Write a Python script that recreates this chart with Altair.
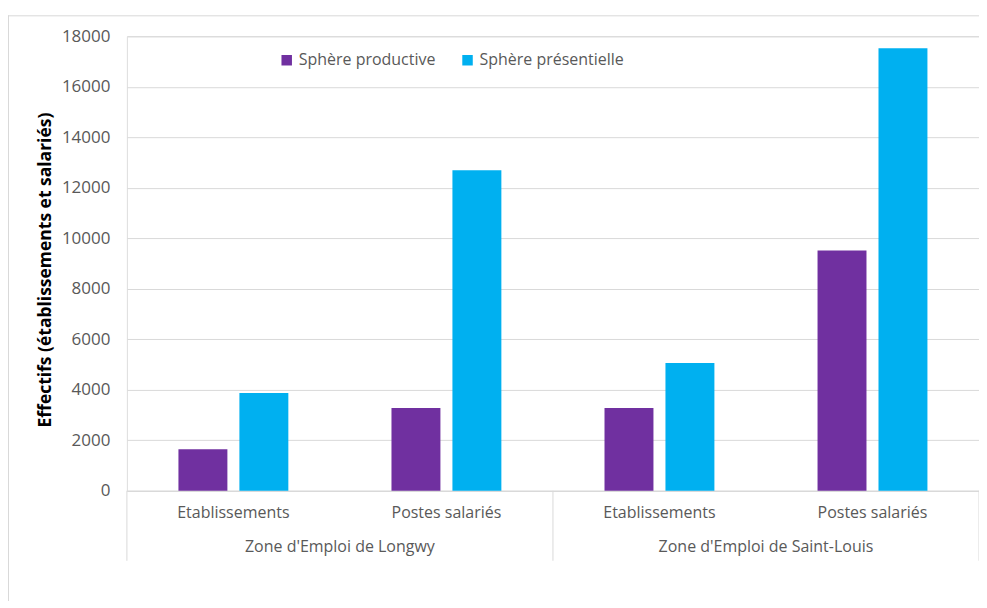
import altair as alt
import pandas as pd

# ---- data ----
zones = ["Zone d'Emploi de Longwy", "Zone d'Emploi de Saint-Louis"]
indicators = ["Etablissements", "Postes salariés"]
series = ["Sphère productive", "Sphère présentielle"]
productive = [1650, 3280, 3280, 9520]
presentielle = [3870, 12690, 5060, 17530]
y_ticks = [0, 2000, 4000, 6000, 8000, 10000, 12000, 14000, 16000, 18000]
y_title = "Effectifs (établissements et salariés)"
colors = ["#7030A0", "#00B0F0"]

FONT = "Open Sans"
GRID = "#D9D9D9"
TXT = "#595959"
W, H = 853, 455

keys = [f"{z}|{i}" for z in zones for i in indicators]
rows = []
for k, (z, i) in enumerate([(z, i) for z in zones for i in indicators]):
    rows.append({"key": f"{z}|{i}", "zone": z, "indicator": i, "series": series[0], "value": productive[k]})
    rows.append({"key": f"{z}|{i}", "zone": z, "indicator": i, "series": series[1], "value": presentielle[k]})
df = pd.DataFrame(rows)

xscale = alt.Scale(domain=keys, paddingInner=0, paddingOuter=0)

bars = alt.Chart(df).mark_bar().encode(
    x=alt.X("key:N", scale=xscale, sort=keys,
            axis=alt.Axis(labels=False, ticks=False, title=None, grid=False,
                          domainColor=GRID, domainWidth=1)),
    xOffset=alt.XOffset("series:N", sort=series,
                        scale=alt.Scale(domain=series, paddingInner=0.197, paddingOuter=0.846)),
    y=alt.Y("value:Q", scale=alt.Scale(domain=[0, 18000], nice=False),
            axis=alt.Axis(values=y_ticks, format="d", title=None, domain=False, ticks=False,
                          gridColor=GRID, labelFont=FONT, labelFontSize=17,
                          labelColor=TXT, labelPadding=17)),
    color=alt.Color("series:N", sort=series,
                    scale=alt.Scale(domain=series, range=colors),
                    legend=alt.Legend(title=None, orient="none", legendX=152, legendY=16,
                                      direction="horizontal", labelFont=FONT,
                                      labelFontSize=16, labelColor=TXT,
                                      symbolType="square", symbolSize=110,
                                      symbolStrokeWidth=0, columnPadding=24,
                                      labelOffset=4)),
)

sub_df = pd.DataFrame({"key": keys, "label": [i for z in zones for i in indicators]})
sub_labels = alt.Chart(sub_df).mark_text(font=FONT, fontSize=16, color=TXT, baseline="middle").encode(
    x=alt.X("key:N", scale=xscale, sort=keys),
    y=alt.value(477),
    text="label:N",
)

grp_df = pd.DataFrame({"key": [f"{z}|{indicators[1]}" for z in zones], "label": zones})
grp_labels = alt.Chart(grp_df).mark_text(font=FONT, fontSize=16, color=TXT, baseline="middle").encode(
    x=alt.X("key:N", scale=xscale, sort=keys, bandPosition=0),
    y=alt.value(511),
    text="label:N",
)

sep_left = alt.Chart(pd.DataFrame({"key": [f"{z}|{indicators[0]}" for z in zones]})).mark_rule(
    color=GRID, strokeWidth=1).encode(
    x=alt.X("key:N", scale=xscale, sort=keys, bandPosition=0),
    y=alt.value(H), y2=alt.value(525),
)
sep_right = alt.Chart(pd.DataFrame({"key": [keys[-1]]})).mark_rule(
    color=GRID, strokeWidth=1).encode(
    x=alt.X("key:N", scale=xscale, sort=keys, bandPosition=1),
    y=alt.value(H), y2=alt.value(525),
)

title = alt.Chart(pd.DataFrame({"t": [y_title]})).mark_text(
    font=FONT, fontSize=17.5, fontWeight="bold", color="black", angle=270,
    baseline="middle", align="center").encode(
    x=alt.value(-81), y=alt.value(234), text="t:N")

border_left = alt.Chart(pd.DataFrame({"a": [0]})).mark_rule(color=GRID, strokeWidth=1).encode(
    x=alt.value(-118.5), y=alt.value(-21), y2=alt.value(600))
border_top = alt.Chart(pd.DataFrame({"a": [0]})).mark_rule(color=GRID, strokeWidth=1).encode(
    x=alt.value(-119), x2=alt.value(W + 20), y=alt.value(-20.5))

chart = alt.layer(
    border_left, border_top, bars, sub_labels, grp_labels, sep_left, sep_right, title
).properties(
    width=W, height=H,
    autosize=alt.AutoSizeParams(type="none"),
    padding={"left": 119, "top": 28, "right": 0, "bottom": 110},
).configure_view(stroke=None).configure(background="white")

chart.save("out.html", embed_options={"renderer": "svg", "actions": False})
